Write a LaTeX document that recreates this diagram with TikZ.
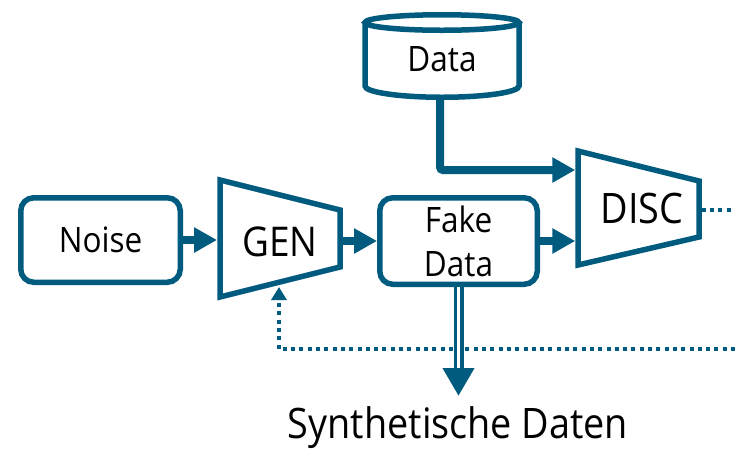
\documentclass[tikz,border=0pt]{standalone}
\usepackage{fontspec}
\setmainfont{Open Sans}[FakeStretch=0.9]
\usetikzlibrary{arrows.meta,calc}
\definecolor{gblue}{HTML}{005B7F}

\begin{document}
\begin{tikzpicture}[x=1pt,y=-1pt,
  outline/.style={draw=gblue, line width=5.5pt},
  rbox/.style={outline, rounded corners=13pt, inner sep=0pt},
  ghost/.style={inner sep=0pt, outer sep=0pt},
  lbl/.style={font=\fontsize{35}{44}\selectfont, text=black},
  genlbl/.style={font=\fontsize{41}{48}\selectfont, text=black},
  biglbl/.style={font=\fontsize{42}{50}\selectfont, text=black},
  flow/.style={draw=gblue, line width=8pt, -{Triangle[length=23pt,width=24pt]}},
  dots/.style={draw=gblue, line width=4pt, dash pattern=on 4pt off 4.3pt},
]
\useasboundingbox (0,0) rectangle (735,451);

% rounded boxes
\node[rbox, lbl, minimum width=159.5pt, minimum height=84.5pt] (noise) at (100.5,240) {Noise};
\node[rbox, lbl, align=center, minimum width=157.5pt, minimum height=86.5pt] (fake) at (458.5,241) {Fake\\Data};

% generator trapezoid
\draw[outline, line join=miter] (220,180) -- (340,210) -- (340,267) -- (220,297) -- cycle;
\node[ghost, minimum width=126pt, minimum height=123pt] (gen) at (280,238.5) {};
\node[genlbl] (gentext) at (280,242) {GEN};

% discriminator trapezoid
\draw[outline, line join=miter] (578,151) -- (699,181) -- (699,237) -- (578,265) -- cycle;
\node[ghost, minimum width=126.5pt, minimum height=120pt] (disc) at (638.5,208) {};
\node[biglbl] (disctext) at (642,208) {DISC};

% data store cylinder
\draw[outline] (442,22.5) ellipse [x radius=77pt, y radius=7.75pt];
\draw[outline] (365,22.5) -- (365,86) arc[start angle=180, end angle=360, x radius=77pt, y radius=11.25pt] -- (519,22.5);
\node[lbl] (data) at (442,59.5) {Data};
\coordinate (datab) at (440,100);

% output label
\node[biglbl, anchor=base] (synth) at (458,438) {Synthetische Daten};

% connectors
\coordinate (discin) at (575.25,170);
\coordinate (outR) at (735,210);
\coordinate (fbR) at (735,349);
\coordinate (genfb) at (279,287);
\coordinate (synthtip) at (458,396);

\draw[flow] (noise.east) -- (noise.east -| gen.west);
\draw[flow] (gen.east |- fake.west) -- (fake.west);
\draw[flow] (fake.east) -- (fake.east -| disc.west);
\draw[flow, rounded corners=3pt] (datab) |- (discin);

\draw[dots] (disc.east |- outR) -- (outR);
\draw[dots, -{Triangle[length=13pt,width=15pt]}] (fbR) -| (genfb);

% double arrow towards the synthetic data
\draw[draw=gblue, line width=10pt, -{Triangle[length=28pt,width=30pt]}] (fake.south) -- (fake.south |- synthtip);
\draw[white, line width=3pt] (fake.south) -- ($(fake.south |- synthtip)+(0,-28.5)$);
\end{tikzpicture}
\end{document}
